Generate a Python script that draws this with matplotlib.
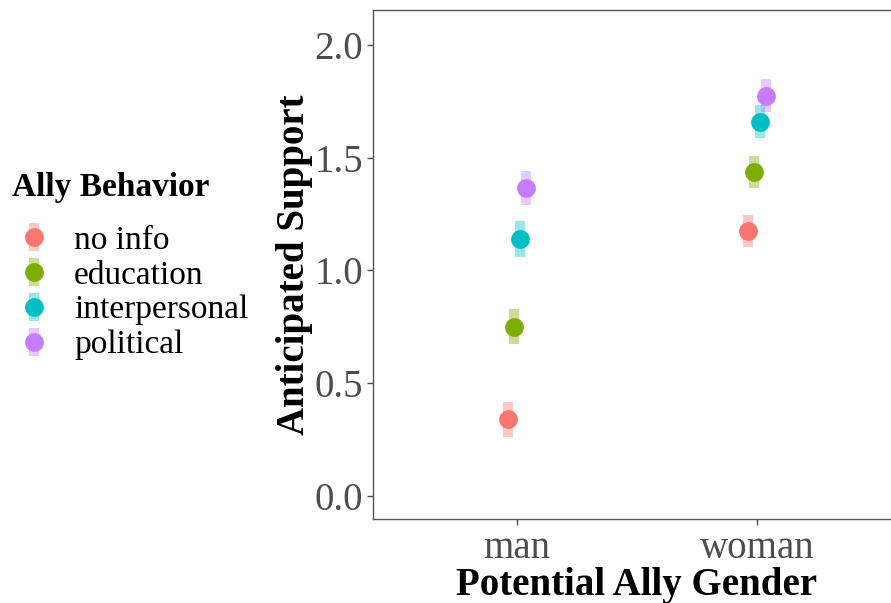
import numpy as np
from matplotlib import pyplot as plt
from matplotlib.lines import Line2D
from matplotlib.legend_handler import HandlerTuple

plt.rcParams['font.family'] = ['Liberation Serif', 'DejaVu Serif']

# data
genders = ["man", "woman"]
behaviors = ["no info", "education", "interpersonal", "political"]
colors = ["#F8766D", "#7CAE00", "#00BFC4", "#C77CFF"]

support_man = [0.34, 0.75, 1.14, 1.365]
support_woman = [1.175, 1.435, 1.66, 1.775]
err_man = [0.078, 0.078, 0.079, 0.076]
err_woman = [0.073, 0.071, 0.072, 0.072]

means = np.array([support_man, support_woman])
errs = np.array([err_man, err_woman])

fig = plt.figure(figsize=(8.91, 6.03), dpi=100)
ax = fig.add_axes([0.4186, 0.1393, 0.5926, 0.8441])

dodge = np.array([-0.0375, -0.0125, 0.0125, 0.0375])
x_base = np.arange(1, len(genders) + 1)

handles = []
for j, (beh, col) in enumerate(zip(behaviors, colors)):
    xs = x_base + dodge[j]
    ax.vlines(xs, means[:, j] - errs[:, j], means[:, j] + errs[:, j],
              colors=col, linewidth=7.2, alpha=0.4, zorder=2)
    ax.plot(xs, means[:, j], 'o', color=col, markersize=13.5,
            markeredgewidth=0, zorder=3)
    bar = Line2D([], [], marker='|', linestyle='none', color=col, alpha=0.4,
                 markersize=20, markeredgewidth=7.2)
    pt = Line2D([], [], marker='o', linestyle='none', color=col,
                markersize=13.5, markeredgewidth=0)
    handles.append((bar, pt))

ax.set_xlim(0.4, 2.6)
ax.set_ylim(-0.102, 2.155)
ax.set_xticks(x_base)
ax.set_xticklabels(genders)
ax.set_yticks([0.0, 0.5, 1.0, 1.5, 2.0])
ax.set_yticklabels(["0.0", "0.5", "1.0", "1.5", "2.0"])

for sp in ax.spines.values():
    sp.set_color("#555555")
    sp.set_linewidth(1.0)

ax.tick_params(axis='both', colors="#4D4D4D", labelsize=28, length=4,
               width=1.0, pad=3)
ax.tick_params(axis='x', pad=4)

ax.set_xlabel("Potential Ally Gender", fontsize=28, fontweight='bold',
              labelpad=0)
ax.set_ylabel("Anticipated Support", fontsize=28, fontweight='bold',
              labelpad=1)

leg = fig.legend(handles, behaviors,
                 handler_map={tuple: HandlerTuple(ndivide=1)},
                 title="Ally Behavior", loc="upper left",
                 bbox_to_anchor=(12 / 891, 1 - 172 / 603), frameon=False,
                 fontsize=24, title_fontproperties={'size': 24, 'weight': 'bold'},
                 handlelength=1.32, handletextpad=0.54, labelspacing=0.13,
                 borderpad=0, borderaxespad=0)
leg._legend_box.align = "left"
leg._legend_box.sep = 16

fig.savefig("out.png", dpi=100)
